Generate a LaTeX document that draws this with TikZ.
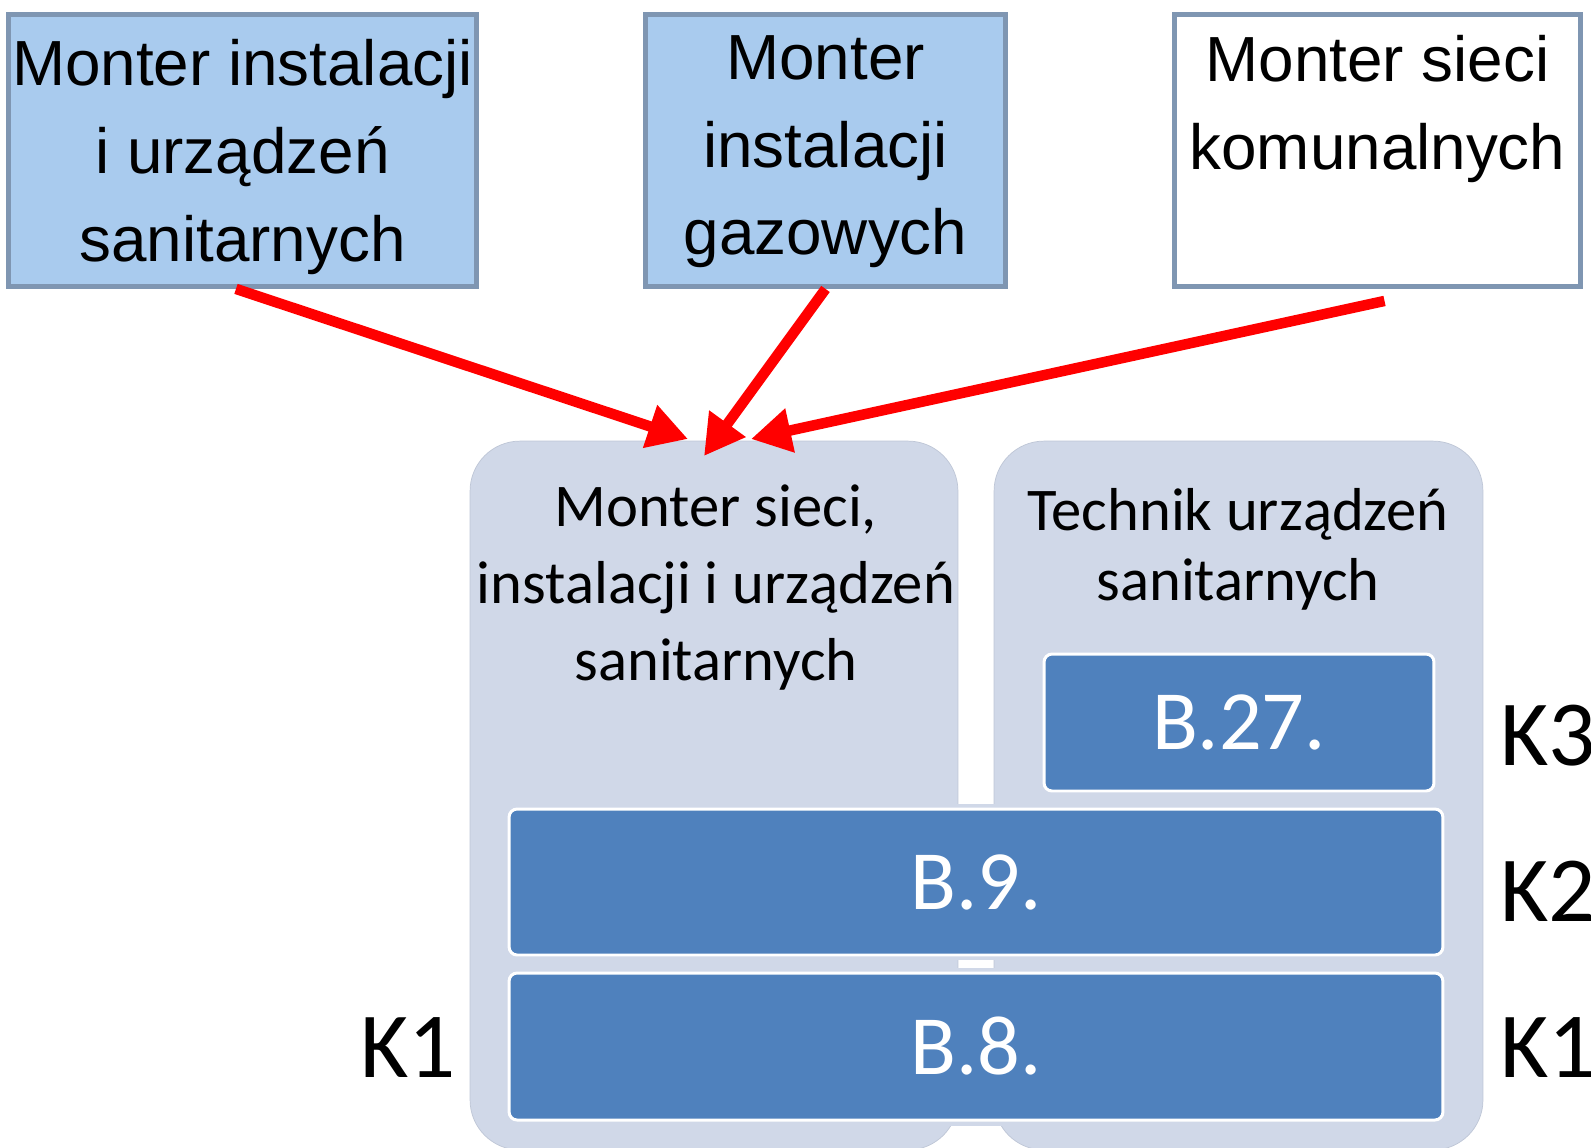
\documentclass[tikz,border=0pt]{standalone}
\usepackage{fontspec}
\setmainfont{Carlito}
\newfontfamily\arialfont{Liberation Sans}
\usetikzlibrary{arrows.meta}
\definecolor{topblue}{RGB}{169,203,238}
\definecolor{topedge}{RGB}{127,150,178}
\definecolor{panelgray}{RGB}{208,216,232}
\definecolor{paneledge}{RGB}{190,198,214}
\definecolor{levelblue}{RGB}{79,129,189}
\begin{document}
\begin{tikzpicture}[x=0.02cm,y=-0.02cm,
    topbox/.style={draw=topedge,line width=2.8pt,inner sep=0pt,minimum height=5.44cm},
    toptext/.style={anchor=north,inner sep=0pt,align=center,font=\arialfont\fontsize{36.3}{50}\selectfont},
    panel/.style={draw=paneledge,fill=panelgray,rounded corners=1cm,inner sep=0pt,minimum height=14.18cm},
    paneltext/.style={anchor=north,inner sep=0pt,align=center,font=\fontsize{34.5}{44}\selectfont},
    level/.style={draw=white,line width=1.7pt,fill=levelblue,rounded corners=0.16cm,inner sep=0pt,text=white,font=\fontsize{48}{58}\selectfont},
    band/.style={fill=panelgray},
    klabel/.style={inner sep=0pt,font=\fontsize{53}{64}\selectfont},
    feed/.style={draw=red,line width=0.21cm,-{Triangle[length=0.8cm,width=0.85cm]}}]
    \clip (0,0) rectangle (1591,1147);
    \node[topbox,fill=topblue,minimum width=9.36cm] (sanit) at (242.5,150.5) {};
    \node[topbox,fill=topblue,minimum width=7.2cm] (gaz) at (825.5,150.5) {};
    \node[topbox,fill=white,minimum width=8.12cm] (komun) at (1377.5,150.5) {};
    \node[toptext] (sanittxt) at (242.5,39) {Monter instalacji\\i urządzeń\\sanitarnych};
    \node[toptext] (gaztxt) at (825.5,35) {Monter\\instalacji\\gazowych};
    \node[toptext] (komuntxt) at (1377.5,35) {Monter sieci\\komunalnych};
    \node[panel,minimum width=9.76cm] (monter) at (714,795.5) {};
    \node[panel,minimum width=9.78cm] (technik) at (1238.5,795.5) {};
    \node[paneltext] (montertxt) at (716,484) {Monter sieci,\\instalacji i urządzeń\\sanitarnych};
    \node[paneltext,font=\fontsize{34.5}{40}\selectfont] (techniktxt) at (1238,488) {Technik urządzeń\\sanitarnych};
    \fill[band] (500,804) rectangle (1452,960);
    \fill[band] (500,968) rectangle (1452,1126);
    \node[level,minimum width=7.8cm,minimum height=2.74cm] (b27) at (1239,722.5) {B.27.};
    \node[level,minimum width=18.68cm,minimum height=2.92cm] (b9) at (976,882) {B.9.};
    \node[level,minimum width=18.68cm,minimum height=2.94cm] (b8) at (976,1046.5) {B.8.};
    \node[klabel,anchor=west] (k3) at (1500,736) {K3};
    \node[klabel,anchor=west] (k2) at (1500,891) {K2};
    \node[klabel,anchor=west] (k1r) at (1500,1048) {K1};
    \node[klabel,anchor=west] (k1l) at (360,1048) {K1};
    \coordinate (in1) at (688,439);
    \coordinate (in2) at (704,456);
    \coordinate (in3) at (751,439);
    \draw[feed] ([xshift=-0.13cm]sanit.south) -- (in1);
    \draw[feed] (gaz.south) -- (in2);
    \draw[feed] ([shift={(7,12)}]komun.south) -- (in3);
\end{tikzpicture}
\end{document}
